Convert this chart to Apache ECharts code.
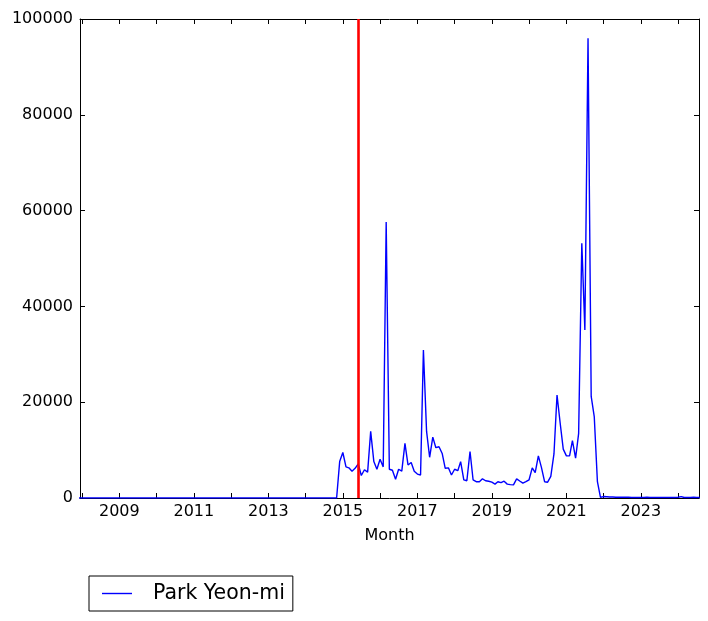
<!DOCTYPE html>
<html>
<head>
<meta charset="utf-8">
<script src="https://cdn.jsdelivr.net/npm/echarts@6/dist/echarts.min.js"></script>
<style>
html,body{margin:0;padding:0;background:#fff;}
#chart{width:708px;height:621px;}
</style>
</head>
<body>
<div id="chart"></div>
<script>
// Monthly series start (first value is December 2007)
const startYear = 2007, startMonth = 12;
const seriesName = 'Park Yeon-mi';
// Monthly values, one row per year
const values = [
  /*2007 Dec*/ 0,
  /*2008*/ 0,0,0,0,0,0,0,0,0,0,0,0,
  /*2009*/ 0,0,0,0,0,0,0,0,0,0,0,0,
  /*2010*/ 0,0,0,0,0,0,0,0,0,0,0,0,
  /*2011*/ 0,0,0,0,0,0,0,0,0,0,0,0,
  /*2012*/ 0,0,0,0,0,0,0,0,0,0,0,0,
  /*2013*/ 0,0,0,0,0,0,0,0,0,0,0,0,
  /*2014*/ 0,0,0,0,0,0,0,0,0,0,0,7600,
  /*2015*/ 9500,6500,6300,5600,6200,7100,4700,5900,5400,13900,7600,6000,
  /*2016*/ 8100,6500,57600,6000,5800,3900,6000,5600,11400,6900,7400,5600,
  /*2017*/ 5000,4800,30900,13900,8500,12700,10500,10700,9300,6200,6300,4800,
  /*2018*/ 6000,5700,7600,3800,3600,9700,3800,3400,3400,4000,3600,3500,
  /*2019*/ 3300,2900,3400,3200,3500,2900,2800,2750,4000,3550,3100,3400,
  /*2020*/ 3800,6300,5300,8800,6400,3400,3300,4500,9200,21500,15600,10200,
  /*2021*/ 8800,8800,12000,8300,13500,53200,35100,96000,21200,17000,3400,150,
  /*2022*/ 300,250,200,200,150,150,150,150,150,100,100,100,
  /*2023*/ 100,100,150,100,100,100,100,100,100,100,100,100,
  /*2024*/ 150,300,100,100,100,150,100,100
];
const yTicks = [0, 20000, 40000, 60000, 80000, 100000];
const tickYears = [2008,2009,2010,2011,2012,2013,2014,2015,2016,2017,2018,2019,2020,2021,2022,2023,2024];
const labelYears = [2009,2011,2013,2015,2017,2019,2021,2023];
const markerDate = [2015, 6];
const xMin = Date.UTC(2007, 11, 12);
const xMax = Date.UTC(2024, 6, 24);

const data = values.map((v, i) => {
  const m = startMonth - 1 + i;
  return [Date.UTC(startYear + Math.floor(m / 12), m % 12, 1), v];
});
const tickVals = tickYears.map(y => Date.UTC(y, 0, 1));
const labelVals = labelYears.map(y => Date.UTC(y, 0, 1));
const font = 'DejaVu Sans';

const chart = echarts.init(document.getElementById('chart'));
const baseX = {
  type: 'value', min: xMin, max: xMax, scale: true,
  axisLine: {show: true, onZero: false, lineStyle: {color: '#000', width: 1}},
  axisTick: {show: true, inside: true, length: 5, customValues: tickVals, lineStyle: {color: '#000'}},
  splitLine: {show: false}, minorTick: {show: false}
};
const baseY = {
  type: 'value', min: 0, max: 100000, interval: 20000,
  axisLine: {show: true, onZero: false, lineStyle: {color: '#000', width: 1}},
  axisTick: {show: true, inside: true, length: 5, customValues: yTicks, lineStyle: {color: '#000'}},
  splitLine: {show: false}
};
chart.setOption({
  animation: false,
  backgroundColor: '#fff',
  textStyle: {fontFamily: font},
  grid: {left: 80, right: 9, top: 19, bottom: 123, containLabel: false},
  legend: {
    left: 89, top: 576,
    padding: [6, 8, 6, 13],
    borderColor: '#000', borderWidth: 1, borderRadius: 0,
    icon: 'rect',
    itemWidth: 30, itemHeight: 1.4,
    textStyle: {fontSize: 20.5, color: '#000', fontFamily: font, padding: [0, 0, 0, 16], lineHeight: 23},
    data: [seriesName]
  },
  xAxis: [
    Object.assign({}, baseX, {
      position: 'bottom',
      name: 'Month', nameLocation: 'middle', nameGap: 30,
      nameTextStyle: {fontSize: 16, color: '#000', fontFamily: font},
      axisLabel: {show: true, customValues: labelVals, fontSize: 16, color: '#000', fontFamily: font, margin: 6,
        formatter: v => String(new Date(v).getUTCFullYear())}
    }),
    Object.assign({}, baseX, {position: 'top', axisLabel: {show: false}})
  ],
  yAxis: [
    Object.assign({}, baseY, {
      position: 'left',
      axisLabel: {show: true, customValues: yTicks, fontSize: 16, color: '#000', fontFamily: font, margin: 7,
        formatter: v => String(v)}
    }),
    Object.assign({}, baseY, {position: 'right', axisLabel: {show: false}})
  ],
  series: [{
    name: seriesName,
    type: 'line',
    xAxisIndex: 0, yAxisIndex: 0,
    data: data,
    symbol: 'none', showSymbol: false,
    clip: true,
    lineStyle: {color: '#0000ff', width: 1.4},
    itemStyle: {color: '#0000ff'},
    markLine: {
      silent: true, symbol: 'none',
      label: {show: false},
      lineStyle: {color: '#ff0000', width: 2.6, type: 'solid'},
      data: [{xAxis: Date.UTC(markerDate[0], markerDate[1] - 1, 1)}]
    }
  }]
});
</script>
</body>
</html>
